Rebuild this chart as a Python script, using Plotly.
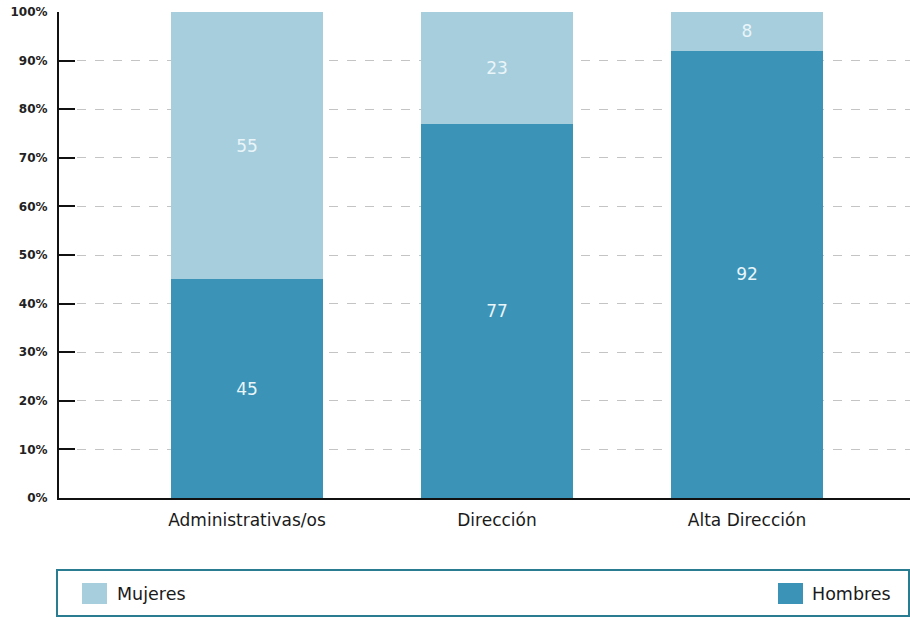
import plotly.graph_objects as go

categories = ["Administrativas/os", "Dirección", "Alta Dirección"]
hombres = [45, 77, 92]
mujeres = [55, 23, 8]
y_ticks = [0, 10, 20, 30, 40, 50, 60, 70, 80, 90, 100]
series_names = ["Mujeres", "Hombres"]

C_MUJ = "#a7cedd"
C_HOM = "#3b94b7"
TXT_IN = "#e9f5f9"
FONT = "DejaVu Sans, Liberation Sans, Arial, sans-serif"

fig = go.Figure()
fig.add_trace(go.Bar(
    x=categories, y=hombres, name=series_names[1], marker=dict(color=C_HOM, line=dict(width=0)),
    text=[str(v) for v in hombres], textposition="inside", insidetextanchor="middle",
    textfont=dict(color=TXT_IN, size=17, family=FONT), width=0.61,
))
fig.add_trace(go.Bar(
    x=categories, y=mujeres, name=series_names[0], marker=dict(color=C_MUJ, line=dict(width=0)),
    text=[str(v) for v in mujeres], textposition="inside", insidetextanchor="middle",
    textfont=dict(color=TXT_IN, size=17, family=FONT), width=0.61,
))

fig.update_layout(
    barmode="stack",
    width=910, height=618,
    margin=dict(l=59, r=0, t=12, b=120),
    paper_bgcolor="white", plot_bgcolor="white",
    showlegend=False,
    font=dict(family=FONT, color="#1a1a1a"),
    uniformtext=dict(mode="show", minsize=17),
)
fig.update_xaxes(
    range=[-0.752, 2.652], showline=True, linecolor="#111", linewidth=2,
    showgrid=False, ticks="", tickfont=dict(size=17, family=FONT, color="#1a1a1a"),
    ticklabelstandoff=6,
)
fig.update_yaxes(
    range=[0, 100], tickvals=y_ticks, ticktext=[f"{v}%" for v in y_ticks],
    showline=True, linecolor="#111", linewidth=2,
    ticks="inside", ticklen=16, tickwidth=2, tickcolor="#111",
    showgrid=True, gridcolor="#c4c4c4", griddash="dash", gridwidth=1,
    tickfont=dict(size=12, family=FONT, color="#222", weight="bold"), zeroline=False,
    ticklabelstandoff=7,
)

def px_x(p):
    return (p - 59) / 851
def px_y(p):
    return (498 - p) / 486

# legend box
fig.add_shape(type="rect", xref="paper", yref="paper", x0=px_x(57), x1=px_x(909),
              y0=px_y(616), y1=px_y(570),
              line=dict(color="#2a7d91", width=2), fillcolor="white")
fig.add_shape(type="rect", xref="paper", yref="paper", x0=px_x(82), x1=px_x(107),
              y0=px_y(604), y1=px_y(583), fillcolor=C_MUJ, line=dict(width=0))
fig.add_shape(type="rect", xref="paper", yref="paper", x0=px_x(778), x1=px_x(803),
              y0=px_y(604), y1=px_y(583), fillcolor=C_HOM, line=dict(width=0))
fig.add_annotation(xref="paper", yref="paper", x=px_x(115), y=px_y(594), text=series_names[0],
                   showarrow=False, xanchor="left", yanchor="middle",
                   font=dict(size=17.5, family=FONT, color="#1a1a1a"))
fig.add_annotation(xref="paper", yref="paper", x=px_x(810), y=px_y(594), text=series_names[1],
                   showarrow=False, xanchor="left", yanchor="middle",
                   font=dict(size=17.5, family=FONT, color="#1a1a1a"))

fig.write_html("out.html")
